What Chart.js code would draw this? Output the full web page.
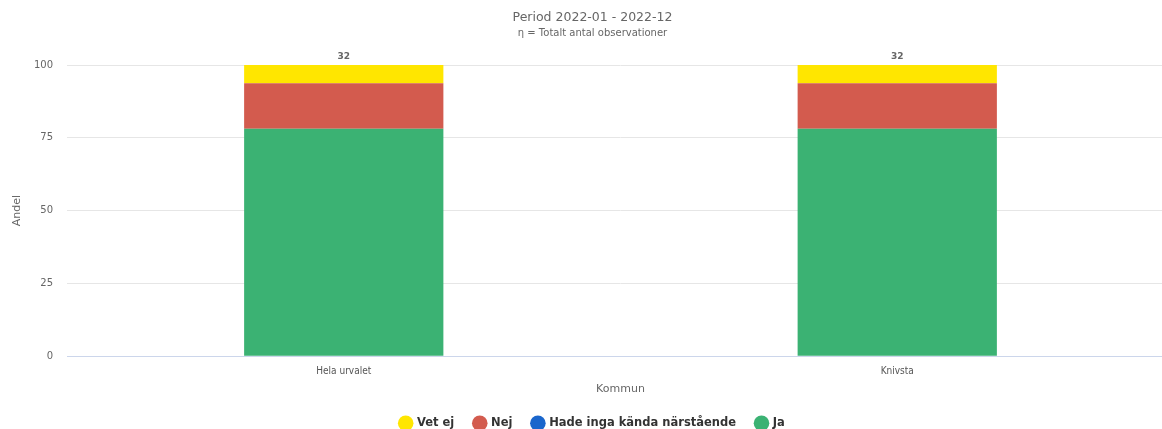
<!DOCTYPE html>
<html>
<head>
<meta charset="utf-8">
<script src="https://cdn.jsdelivr.net/npm/chart.js@4/dist/chart.umd.min.js"></script>
<style>
html, body { margin: 0; padding: 0; background: #fff; overflow: hidden; }
#wrap { width: 1162px; height: 429px; overflow: hidden; }
</style>
</head>
<body>
<div id="wrap"><canvas id="chartCanvas" width="1174" height="429"></canvas></div>
<script>
var categories = ['Hela urvalet', 'Knivsta'];
var totals = [32, 32];
var seriesNames = ['Ja', 'Hade inga kända närstående', 'Nej', 'Vet ej'];
var ja = [78.125, 78.125];
var hadeInga = [0, 0];
var nej = [15.625, 15.625];
var vetEj = [6.25, 6.25];
var yTicks = [0, 25, 50, 75, 100];
var colors = ['#3bb273', '#1a66cc', '#d35b4e', '#ffe600'];

var seriesValues = [ja, hadeInga, nej, vetEj];
var datasets = [];
for (var i = 0; i < seriesNames.length; i++) {
    datasets.push({
        label: seriesNames[i],
        data: seriesValues[i],
        backgroundColor: colors[i],
        borderWidth: 0,
        barPercentage: 0.72,
        categoryPercentage: 0.5
    });
}

// draw the n value above each stacked bar
var totalLabels = {
    id: 'totalLabels',
    afterDatasetsDraw: function(chart) {
        var ctx = chart.ctx;
        var meta = chart.getDatasetMeta(chart.data.datasets.length - 1);
        ctx.save();
        ctx.font = 'bold 9px "DejaVu Sans"';
        ctx.fillStyle = '#666';
        ctx.textAlign = 'center';
        ctx.textBaseline = 'bottom';
        for (var j = 0; j < meta.data.length; j++) {
            var bar = meta.data[j];
            ctx.fillText(totals[j], bar.x, chart.scales.y.getPixelForValue(100) - 4);
        }
        ctx.restore();
    }
};

var ctx = document.getElementById('chartCanvas').getContext('2d');
var myChart = new Chart(ctx, {
    type: 'bar',
    data: { labels: categories, datasets: datasets },
    plugins: [totalLabels],
    options: {
        responsive: false,
        animation: false,
        layout: { padding: { left: 11, right: 0, top: 0, bottom: -10 } },
        plugins: {
            title: {
                display: true,
                text: 'Period 2022-01 - 2022-12',
                color: '#666',
                font: { family: 'DejaVu Sans', size: 12.5, weight: 'normal' },
                padding: { top: 10, bottom: 0 }
            },
            subtitle: {
                display: true,
                text: 'η = Totalt antal observationer',
                color: '#666',
                font: { family: 'DejaVu Sans', size: 10 },
                padding: { top: 2, bottom: 26 }
            },
            legend: {
                position: 'bottom',
                reverse: true,
                labels: {
                    usePointStyle: true,
                    pointStyle: 'circle',
                    boxWidth: 11,
                    boxHeight: 11,
                    padding: 20,
                    color: '#333',
                    font: { family: 'DejaVu Sans', size: 11.5, weight: 'bold' }
                }
            },
            tooltip: { enabled: false }
        },
        scales: {
            x: {
                stacked: true,
                grid: { display: false },
                border: { color: '#ccd6eb' },
                ticks: { color: '#555', font: { family: 'DejaVu Sans Condensed', size: 10 }, padding: 1 },
                title: { display: true, text: 'Kommun', color: '#666', font: { family: 'DejaVu Sans', size: 11 }, padding: { top: 4, bottom: 2 } }
            },
            y: {
                stacked: true,
                min: 0,
                max: 100,
                afterBuildTicks: function(axis) {
                    axis.ticks = yTicks.map(function(v) { return { value: v }; });
                },
                afterFit: function(axis) {
                    axis.width = 56;
                },
                grid: { color: '#e6e6e6', drawTicks: false },
                border: { display: false },
                ticks: { color: '#666', font: { family: 'DejaVu Sans', size: 10 }, padding: 14 },
                title: { display: true, text: 'Andel', color: '#666', font: { family: 'DejaVu Sans', size: 11 }, padding: { top: 0, bottom: 0 } }
            }
        }
    }
});
</script>
</body>
</html>
